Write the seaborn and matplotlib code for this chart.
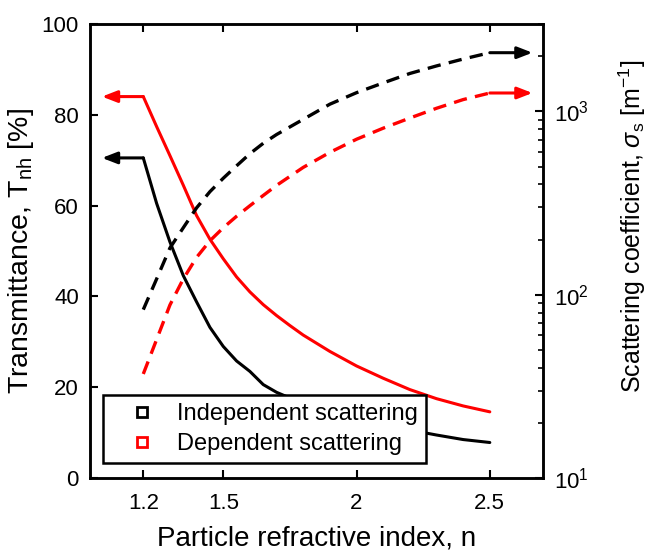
import matplotlib
matplotlib.use("Agg")
import matplotlib.pyplot as plt
import seaborn as sns
import pandas as pd
from matplotlib.lines import Line2D

# ---- data ----
n_T_ind = [1.2, 1.25, 1.3, 1.35, 1.4, 1.45, 1.5, 1.55, 1.6, 1.65, 1.7, 1.8, 1.9, 2.0, 2.1, 2.2, 2.3, 2.4, 2.5]
T_ind = [70.5, 60.5, 52.0, 44.6, 38.8, 33.2, 29.0, 25.8, 23.5, 20.6, 18.9, 16.4, 14.4, 12.8, 11.6, 10.6, 9.5, 8.5, 7.85]

n_T_dep = [1.2, 1.25, 1.3, 1.35, 1.4, 1.45, 1.5, 1.55, 1.6, 1.65, 1.7, 1.75, 1.8, 1.9, 2.0, 2.1, 2.2, 2.3, 2.4, 2.5]
T_dep = [84.0, 77.4, 71.0, 64.5, 57.8, 52.6, 48.3, 44.3, 41.0, 38.2, 35.8, 33.6, 31.5, 27.9, 24.7, 22.0, 19.5, 17.5, 15.9, 14.6]

n_s_ind = [1.2, 1.25, 1.3, 1.35, 1.4, 1.45, 1.5, 1.55, 1.6, 1.65, 1.7, 1.8, 1.9, 2.0, 2.1, 2.2, 2.3, 2.4, 2.5]
s_ind = [83, 122, 180, 232, 298, 365, 432, 505, 588, 670, 748, 905, 1095, 1265, 1430, 1610, 1770, 1930, 2090]

n_s_dep = [1.2, 1.25, 1.3, 1.35, 1.4, 1.45, 1.5, 1.55, 1.6, 1.65, 1.7, 1.8, 1.9, 2.0, 2.1, 2.2, 2.3, 2.4, 2.5]
s_dep = [37, 57, 88, 122, 160, 197, 232, 268, 306, 348, 395, 495, 598, 705, 810, 920, 1040, 1160, 1260]

legend_labels = ["Independent scattering", "Dependent scattering"]
x_ticks = [1.2, 1.5, 2, 2.5]
x_ticklabels = ["1.2", "1.5", "2", "2.5"]
y_ticks = [0, 20, 40, 60, 80, 100]

# ---- style ----
sns.set_style("ticks")
plt.rcParams['font.family'] = ['Liberation Sans', 'DejaVu Sans']
plt.rcParams['mathtext.fontset'] = 'custom'
plt.rcParams['mathtext.rm'] = 'Liberation Sans'
plt.rcParams['mathtext.it'] = 'Liberation Sans:italic'
for k in ('text.color', 'axes.labelcolor', 'xtick.color', 'ytick.color'):
    plt.rcParams[k] = 'black'

fig = plt.figure(figsize=(6.52, 5.56), dpi=100)
ax = fig.add_axes([0.138, 0.140, 0.695, 0.817])
ax2 = ax.twinx()

lw = 2.2
df_ti = pd.DataFrame({"n": n_T_ind, "v": T_ind})
df_td = pd.DataFrame({"n": n_T_dep, "v": T_dep})
df_si = pd.DataFrame({"n": n_s_ind, "v": s_ind})
df_sd = pd.DataFrame({"n": n_s_dep, "v": s_dep})

sns.lineplot(data=df_ti, x="n", y="v", ax=ax, color="black", lw=lw, legend=False)
sns.lineplot(data=df_td, x="n", y="v", ax=ax, color="red", lw=lw, legend=False)
sns.lineplot(data=df_si, x="n", y="v", ax=ax2, color="black", lw=lw + 0.2, legend=False)
sns.lineplot(data=df_sd, x="n", y="v", ax=ax2, color="red", lw=lw + 0.2, legend=False)
for l in ax2.get_lines():
    l.set_linestyle((0, (4.0, 2.5)))

# arrows indicating axis association
arrow_kw = dict(arrowstyle="-|>,head_length=0.9,head_width=0.35", lw=lw, shrinkA=0, shrinkB=0)
for xs, ys, c in [(n_T_ind, T_ind, "black"), (n_T_dep, T_dep, "red")]:
    ax.annotate("", xy=(1.045, ys[0]), xytext=(xs[0], ys[0]),
                arrowprops=dict(color=c, **arrow_kw))
for xs, ys, c in [(n_s_ind, s_ind, "black"), (n_s_dep, s_dep, "red")]:
    ax2.annotate("", xy=(2.66, ys[-1]), xytext=(xs[-1], ys[-1]),
                 arrowprops=dict(color=c, **arrow_kw))

ax.set_xlim(1.0, 2.7)
ax.set_ylim(0, 100)
ax2.set_yscale("log")
ax2.set_ylim(10, 3000)

ax.set_xticks(x_ticks)
ax.set_xticklabels(x_ticklabels)
ax.set_yticks(y_ticks)
ax2.set_yticks([10, 100, 1000])
ax2.set_yticklabels(["$10^1$", "$10^2$", "$10^3$"])

ax.tick_params(axis='x', direction='in', top=True, length=6, width=1.5, labelsize=16, pad=11)
ax.tick_params(axis='y', direction='in', right=False, length=6, width=1.5, labelsize=16, pad=8)
ax2.tick_params(axis='y', which='major', direction='in', length=6, width=1.5, labelsize=16, pad=8)
ax2.tick_params(axis='y', which='minor', direction='in', length=3.5, width=1.2)

for a in (ax, ax2):
    for s in a.spines.values():
        s.set_linewidth(1.8)
        s.set_color("black")

ax.set_xlabel("Particle refractive index, n", fontsize=20, labelpad=8)
ax.set_ylabel("Transmittance, T$_{\\mathrm{nh}}$ [%]", fontsize=20.5, labelpad=4)
ax2.set_ylabel("Scattering coefficient, $\\sigma_{\\mathrm{s}}$ [m$^{\\mathrm{-1}}$]", fontsize=18)
ax2.yaxis.set_label_coords(1.163, 0.555)

handles = [Line2D([], [], ls="none", marker="s", markersize=7, markerfacecolor="white",
                  markeredgecolor=c, markeredgewidth=2) for c in ("black", "red")]
leg = ax2.legend(handles, legend_labels, loc="lower left", bbox_to_anchor=(0.029, 0.033),
                 borderaxespad=0, fontsize=17, frameon=True, fancybox=False,
                 edgecolor="black", handletextpad=0.19, borderpad=0.33, labelspacing=0.36,
                 handlelength=2.62)
leg.get_frame().set_linewidth(1.8)
leg.get_frame().set_alpha(1)

fig.savefig("out.png", dpi=100)
